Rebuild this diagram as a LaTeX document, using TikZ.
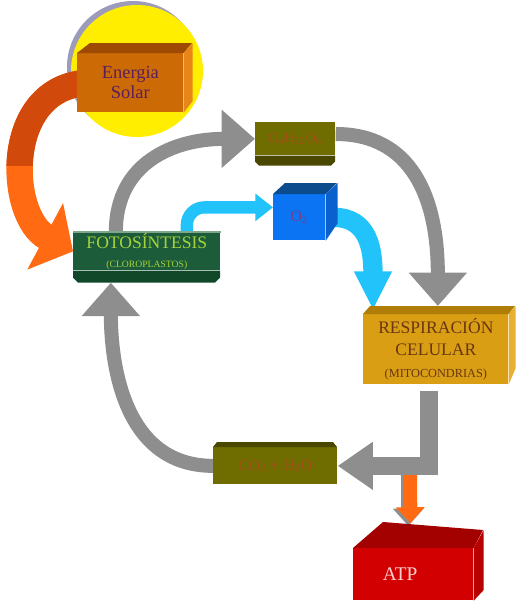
\documentclass[tikz,border=0pt]{standalone}
\usepackage{fontspec}
\setmainfont{Liberation Serif}
\usetikzlibrary{
    arrows.meta,
    backgrounds,
    calc,
    positioning,
}

\definecolor{sunYellow}{HTML}{FFEE00}
\definecolor{sunRim}{HTML}{9C9CBA}
\definecolor{orangeDark}{HTML}{D2490C}
\definecolor{orangeLight}{HTML}{FF6A12}
\definecolor{solarFront}{HTML}{CC6A06}
\definecolor{solarTop}{HTML}{9E4A02}
\definecolor{solarSide}{HTML}{E8861A}
\definecolor{solarText}{HTML}{5B1F5B}
\definecolor{fotoGreen}{HTML}{1D5C3A}
\definecolor{fotoDark}{HTML}{12482A}
\definecolor{fotoLine}{HTML}{7FA58A}
\definecolor{fotoText}{HTML}{A6D23A}
\definecolor{oliveBox}{HTML}{6F6C00}
\definecolor{oliveDark}{HTML}{4A4700}
\definecolor{oliveText}{HTML}{A5501A}
\definecolor{o2Front}{HTML}{0B74F2}
\definecolor{o2Top}{HTML}{0B4C8C}
\definecolor{o2Side}{HTML}{0A60CC}
\definecolor{o2Text}{HTML}{7A3E8C}
\definecolor{o2Cyan}{HTML}{22C2FA}
\definecolor{arrowGrey}{HTML}{8E8E8E}
\definecolor{respFront}{HTML}{D99E14}
\definecolor{respTop}{HTML}{B07E08}
\definecolor{respSide}{HTML}{E8B030}
\definecolor{respText}{HTML}{6A3710}
\definecolor{atpFront}{HTML}{D20000}
\definecolor{atpTop}{HTML}{A30000}
\definecolor{atpSide}{HTML}{B80000}
\definecolor{atpText}{HTML}{FFD0D0}

\begin{document}
\begin{tikzpicture}[x=0.02cm, y=-0.02cm]

    \tikzstyle{commonBox}=[rectangle, anchor=north west, inner sep=0pt, align=center]
    \tikzstyle{greyArrow}=[draw=arrowGrey, line width=8pt, -{Triangle[width=32pt, length=19pt]}]
    \tikzstyle{cyanArrow}=[draw=o2Cyan]
    \tikzstyle{orangeArrow}=[line width=15pt, -{Triangle[width=42pt, length=18pt]}]

    % one pixel of the original
    \def \px {0.02cm}

    \useasboundingbox (0,0) rectangle (516,609);

    % Boxes
    \node at (77,53)   [commonBox, fill=solarFront, text=solarText, font=\fontsize{10.5}{11.5}\selectfont, minimum width=106*\px, minimum height=59*\px] (eSolar) {Energia\\Solar};
    \node at (73,232)  [commonBox, fill=fotoGreen, text=fotoText, font=\fontsize{10}{10.5}\selectfont, minimum width=147*\px, minimum height=38*\px] (foto) {FOTOSÍNTESIS\\{\fontsize{5.5}{6.5}\selectfont(CLOROPLASTOS)}};
    \node at (255,122) [commonBox, fill=oliveBox, text=oliveText, font=\fontsize{8}{9}\selectfont, minimum width=80*\px, minimum height=33*\px] (c6) {C\textsubscript{6}H\textsubscript{12}O\textsubscript{6}};
    \node at (273,194) [commonBox, fill=o2Front, text=o2Text, font=\fontsize{9}{10}\selectfont, minimum width=52*\px, minimum height=46*\px] (o2) {O\textsubscript{2}};
    \node at (363,314) [commonBox, fill=respFront, text=respText, font=\fontsize{10}{12.5}\selectfont, minimum width=145*\px, minimum height=70*\px] (resp) {RESPIRACIÓN\\CELULAR\\{\fontsize{7}{8}\selectfont(MITOCONDRIAS)}};
    \node at (213,447) [commonBox, fill=oliveBox, text=oliveText, font=\fontsize{9}{10}\selectfont, minimum width=124*\px, minimum height=37*\px] (co2) {CO\textsubscript{2} + H\textsubscript{2}O};
    \node at (353,548) [commonBox, fill=atpFront, text=atpText, font=\fontsize{11}{12}\selectfont, minimum width=120*\px, minimum height=52*\px] (atp) {ATP\hspace{15pt}};

    % 3D faces
    \fill[solarTop] (eSolar.north west) -- ++(13,-10) -- ++(102,0) -- (eSolar.north east) -- cycle;
    \fill[solarSide] (eSolar.north east) -- ++(9,-10) -- ++(0,58) -- (eSolar.south east) -- cycle;
    \fill[fotoDark] (foto.south west) -- ++(147,0) -- ++(0,7) -- ++(-5,5) -- ++(-137,0) -- ++(-5,-5) -- cycle;
    \draw[fotoLine, line width=1pt] (foto.north west) -- (foto.north east);
    \fill[oliveDark] (c6.south west) -- ++(80,0) -- ++(0,6) -- ++(-4,4) -- ++(-72,0) -- ++(-4,-4) -- cycle;
    \fill[oliveDark] (co2.north west) -- ++(4,-5) -- ++(116,0) -- ++(4,5) -- cycle;
    \fill[o2Top] (o2.north west) -- ++(12,-11) -- ++(52,0) -- (o2.north east) -- cycle;
    \fill[o2Side] (o2.north east) -- ++(12,-11) -- ++(0,40) -- (o2.south east) -- cycle;
    \fill[respTop] (resp.north west) -- ++(7,-8) -- ++(145,0) -- (resp.north east) -- cycle;
    \fill[respSide] (resp.north east) -- ++(7,-8) -- ++(0,62) -- (resp.south east) -- cycle;
    \fill[atpTop] (atp.north west) -- ++(30,-26) -- ++(100,8) -- (atp.north east) -- cycle;
    \fill[atpSide] (atp.north east) -- ++(10,-18) -- ++(0,60) -- (atp.south east) -- cycle;

    \begin{scope}[on background layer]
        % Sun
        \fill[sunRim] (133,67) circle [radius=66];
        \fill[sunYellow] (137,71) circle [radius=66];

        % Solar energy
        \draw[orangeArrow, orangeLight] ($(eSolar.west)+(10,0)$) .. controls +(-85,5) and +(-65,-35) .. (foto.west);
        \begin{scope}
            \clip (0,0) rectangle (140,165);
            \draw[orangeArrow, orangeDark] ($(eSolar.west)+(10,0)$) .. controls +(-85,5) and +(-65,-35) .. (foto.west);
        \end{scope}

        % Cycle
        \draw[greyArrow] ($(foto.north)+(-31,0)$) .. controls +(0,-70) and +(-80,0) .. (c6.west);
        \draw[greyArrow] ($(c6.north east)+(0,12)$) .. controls +(75,0) and +(0,-110) .. ($(resp.north)+(2,-8)$);
        \draw[cyanArrow, line width=7pt, rounded corners=10, -{Triangle[width=15pt, length=10pt]}] ($(foto.north)+(40,0)$) |- ($(o2.west)+(0,-10)$);
        \draw[cyanArrow, line width=11pt, -{Triangle[width=20pt, length=22pt]}] ($(o2.east)+(8,0)$) .. controls +(35,0) and +(0,-60) .. ($(resp.north west)+(10,-4)$);

        % ATP
        \coordinate (atpIn) at (410,470);
        \draw[arrowGrey, line width=8pt, -{Triangle[width=17pt, length=10pt]}] ($(atpIn)+(-2,3)$) -- ($(atp.north)+(-5,-22)$);
        \draw[orangeLight, line width=8pt, -{Triangle[width=16pt, length=9pt]}] (atpIn) -- ($(atp.north)+(-3,-25)$);
        \draw[greyArrow, line width=10pt, line join=miter, -{Triangle[width=26pt, length=20pt]}] ($(resp.south)+(-7,6)$) |- (co2.east);
        \draw[greyArrow] (co2.west) .. controls +(-90,0) and +(0,80) .. ($(foto.south)+(-36,12)$);
    \end{scope}

\end{tikzpicture}
\end{document}
